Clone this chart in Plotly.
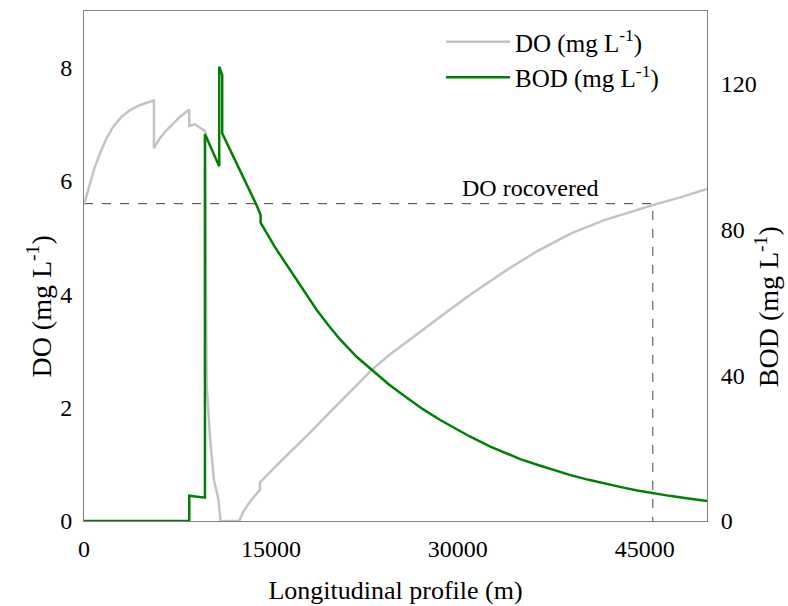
import plotly.graph_objects as go

# Distance along the river (m) and dissolved oxygen (mg/L)
do_x = [0, 240, 481, 800, 1283, 1800, 2350, 3000, 3690, 4300, 5030, 5615,
        5615, 6100, 6633, 7150, 7700, 8446, 8446, 8903, 9720, 9840, 10107,
        10428, 10773, 10965, 12457, 12778, 13315, 14117, 14117, 16000, 18000,
        20000, 23205, 24500, 26000, 27500, 29000, 30962, 32566, 34000, 36352,
        39047, 41750, 44446, 45737, 48000, 50000]
do_y = [5.58, 5.78, 5.96, 6.20, 6.49, 6.75, 6.96, 7.13, 7.25, 7.32, 7.38, 7.42,
        6.58, 6.76, 6.90, 7.02, 7.13, 7.26, 6.97, 7.00, 6.88, 2.43, 1.49,
        0.72, 0.40, 0.0, 0.0, 0.16, 0.34, 0.55, 0.68, 1.10, 1.53,
        1.98, 2.69, 2.93, 3.18, 3.43, 3.67, 3.99, 4.23, 4.44, 4.76,
        5.07, 5.31, 5.50, 5.58, 5.72, 5.86]

# Distance along the river (m) and biochemical oxygen demand (mg/L)
bod_x = [0, 8446, 8446, 9706, 9706, 10853, 10853, 11093, 11093, 12513, 13853,
         14174, 14174, 15300, 16524, 17600, 18665, 19600, 20534, 21900, 23205,
         24500, 25885, 27200, 28555, 29800, 30962, 32566, 34000, 35005, 36500,
         38000, 39047, 40500, 42000, 43098, 44400, 45737, 47000, 48500, 50000]
bod_y = [0, 0, 6.95, 6.4, 106.2, 97.4, 124.7, 122.4, 106.4, 96.5, 86.7,
         84.0, 81.9, 75.3, 68.9, 63.2, 58.0, 53.8, 49.9, 45.0, 41.2,
         37.4, 33.9, 30.7, 27.8, 25.3, 23.2, 20.5, 18.4, 17.0, 15.3,
         13.6, 12.6, 11.3, 10.1, 9.3, 8.4, 7.6, 6.9, 6.2, 5.5]

# Point where DO returns to its initial level
recovered_x = 45650
recovered_do = 5.6

font_family = "Liberation Serif"
axis_grey = "#808080"

fig = go.Figure()

fig.add_trace(go.Scatter(
    x=[0, recovered_x, recovered_x], y=[recovered_do, recovered_do, 0],
    mode="lines", line=dict(color="#404040", width=1, dash="dash"),
    showlegend=False, hoverinfo="skip", yaxis="y"))

fig.add_trace(go.Scatter(
    x=do_x, y=do_y, mode="lines", name="DO (mg L<sup>-1</sup>)",
    line=dict(color="#c3c3c3", width=2.5), yaxis="y"))

fig.add_trace(go.Scatter(
    x=bod_x, y=bod_y, mode="lines", name="BOD (mg L<sup>-1</sup>)",
    line=dict(color="#008000", width=2.5), yaxis="y2"))

fig.add_annotation(
    x=35800, y=recovered_do, xref="x", yref="y", text="DO rocovered",
    showarrow=False, yanchor="bottom", yshift=1,
    font=dict(family=font_family, size=24, color="black"))

# Vertical axis titles, written as rotated labels beside each axis
title_font = dict(family=font_family, size=28, color="black")
fig.add_annotation(
    x=-0.071, y=0.42, xref="paper", yref="paper",
    text="DO (mg L<sup>-1</sup>)", textangle=-90, showarrow=False,
    xanchor="center", yanchor="middle", font=title_font)
fig.add_annotation(
    x=1.097, y=0.42, xref="paper", yref="paper",
    text="BOD (mg L<sup>-1</sup>)", textangle=-90, showarrow=False,
    xanchor="center", yanchor="middle", font=title_font)

fig.update_layout(
    width=788, height=606,
    margin=dict(l=84, r=81, t=11, b=85),
    paper_bgcolor="white", plot_bgcolor="white",
    font=dict(family=font_family, size=24, color="black"),
    xaxis=dict(
        range=[0, 50000], tickvals=[0, 15000, 30000, 45000],
        ticktext=["0", "15000", "30000", "45000"],
        showgrid=False, zeroline=False, automargin=False,
        showline=True, linecolor=axis_grey, linewidth=1, mirror=True,
        ticks="outside", ticklen=6, tickcolor="rgba(0,0,0,0)",
        title=dict(text="Longitudinal profile (m)", standoff=20,
                   font=dict(family=font_family, size=26, color="black"))),
    yaxis=dict(
        range=[0, 9], tickvals=[0, 2, 4, 6, 8],
        showgrid=False, zeroline=False, automargin=False,
        showline=True, linecolor=axis_grey, linewidth=1, mirror=True,
        ticks="outside", ticklen=6, tickcolor="rgba(0,0,0,0)"),
    yaxis2=dict(
        range=[0, 140], tickvals=[0, 40, 80, 120],
        overlaying="y", side="right", anchor="x",
        showgrid=False, zeroline=False, automargin=False,
        showline=True, linecolor=axis_grey, linewidth=1,
        ticks="outside", ticklen=8, tickcolor="rgba(0,0,0,0)"),
    legend=dict(
        x=(441 - 84) / 623, y=1 - (19 - 11) / 510,
        xanchor="left", yanchor="top",
        bgcolor="rgba(0,0,0,0)", borderwidth=0,
        itemwidth=64, tracegroupgap=0,
        font=dict(family=font_family, size=25, color="black")),
)

fig.write_html("out.html")
